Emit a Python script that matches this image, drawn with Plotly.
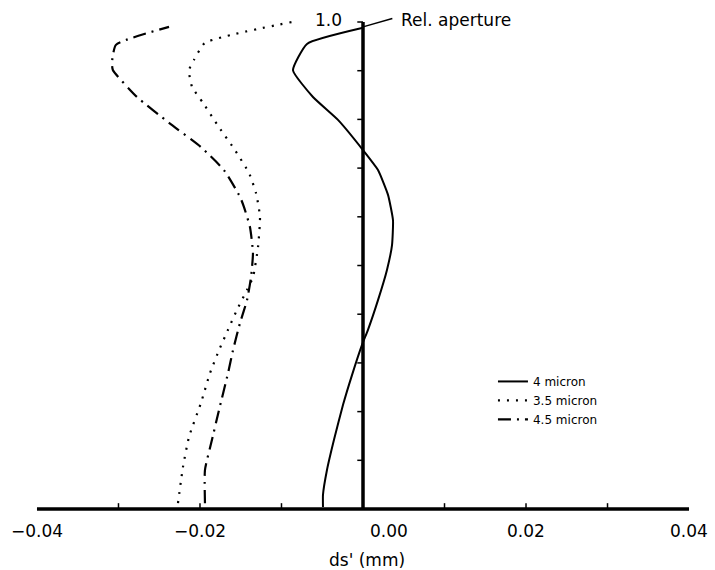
import plotly.graph_objects as go

# ---- data ----
aperture_4 = [0.004, 0.029, 0.080, 0.142, 0.214, 0.275, 0.337, 0.368, 0.429, 0.491,
              0.542, 0.593, 0.645, 0.696, 0.737, 0.799, 0.846, 0.901, 0.955, 0.988]
ds_4 = [-0.00491, -0.00491, -0.00442, -0.00356, -0.00245, -0.00135, -0.00012, 0.00061,
        0.00184, 0.00294, 0.00356, 0.00368, 0.00307, 0.00184, 0.0, -0.00307, -0.00614,
        -0.00859, -0.00687, 0.0]

aperture_35 = [0.012, 0.086, 0.148, 0.218, 0.279, 0.326, 0.368, 0.409, 0.450, 0.476,
               0.538, 0.600, 0.649, 0.690, 0.737, 0.784, 0.834, 0.867, 0.901, 0.922,
               0.957, 1.0]
ds_35 = [-0.02270, -0.02209, -0.02135, -0.01988, -0.01877, -0.01767, -0.01656, -0.01546,
         -0.01423, -0.01350, -0.01288, -0.01264, -0.01313, -0.01399, -0.01571, -0.01767,
         -0.01963, -0.02098, -0.02135, -0.02074, -0.01939, -0.00871]

aperture_45 = [0.012, 0.080, 0.142, 0.203, 0.279, 0.326, 0.382, 0.429, 0.476, 0.526,
               0.579, 0.620, 0.641, 0.696, 0.743, 0.793, 0.846, 0.901, 0.916, 0.953, 0.990]
ds_45 = [-0.01939, -0.01939, -0.01853, -0.01767, -0.01656, -0.01595, -0.01509, -0.01423,
         -0.01374, -0.01350, -0.01387, -0.01460, -0.01509, -0.01706, -0.01988, -0.02380,
         -0.02773, -0.03068, -0.03080, -0.03031, -0.02380]

series_names = ["4 micron", "3.5 micron", "4.5 micron"]

x_minor_ticks = [-0.03, -0.02, -0.01, 0.01, 0.02, 0.03]
x_label_vals = [-0.04, -0.02, 0.00, 0.02, 0.04]
x_label_text = ["\u22120.04", "\u22120.02", "0.00", "0.02", "0.04"]
y_ticks = [0.1, 0.2, 0.3, 0.4, 0.5, 0.6, 0.7, 0.8, 0.9, 1.0]

FONT = "DejaVu Sans"

fig = go.Figure()
fig.add_trace(go.Scatter(x=ds_4, y=aperture_4, mode="lines", name=series_names[0],
                         line=dict(color="black", width=2, shape="spline", smoothing=0.45)))
fig.add_trace(go.Scatter(x=ds_35, y=aperture_35, mode="lines", name=series_names[1],
                         line=dict(color="black", width=2.2, dash="2px,7px",
                                   shape="spline", smoothing=0.5)))
fig.add_trace(go.Scatter(x=ds_45, y=aperture_45, mode="lines", name=series_names[2],
                         line=dict(color="black", width=2.2, dash="13px,6px,2px,6px",
                                   shape="spline", smoothing=0.5)))

shapes = []
# baseline (x axis) and vertical aperture axis
shapes.append(dict(type="line", xref="x", yref="y", x0=-0.04, x1=0.04, y0=0, y1=0,
                   line=dict(color="black", width=3.5)))
shapes.append(dict(type="line", xref="x", yref="y", x0=0, x1=0, y0=0, y1=1.0,
                   line=dict(color="black", width=3.5)))
# minor ticks on baseline (pointing up)
for t in x_minor_ticks:
    shapes.append(dict(type="line", xref="x", yref="y", x0=t, x1=t, y0=0, y1=0.012,
                       line=dict(color="black", width=1.5)))
# ticks on aperture axis (pointing left)
for t in y_ticks:
    shapes.append(dict(type="line", xref="x", yref="y", x0=-0.0007, x1=0, y0=t, y1=t,
                       line=dict(color="black", width=1.5)))
# leader line for "Rel. aperture"
shapes.append(dict(type="line", xref="x", yref="y", x0=0, x1=0.0036, y0=0.99, y1=1.007,
                   line=dict(color="black", width=1.5)))

annotations = []
for v, txt in zip(x_label_vals, x_label_text):
    annotations.append(dict(x=v, y=0, xref="x", yref="y", text=txt, showarrow=False,
                            xanchor="center", yanchor="middle", yshift=-22,
                            xshift=26 if v == 0 else 0,
                            font=dict(family=FONT, size=17, color="black")))
annotations.append(dict(x=0, y=0, xref="x", yref="y", text="ds' (mm)", showarrow=False,
                        xanchor="center", yanchor="middle", yshift=-51, xshift=4,
                        font=dict(family=FONT, size=17, color="black")))
annotations.append(dict(x=0, y=1.0, xref="x", yref="y", text="1.0", showarrow=False,
                        xanchor="right", yanchor="middle", xshift=-19, yshift=2,
                        font=dict(family=FONT, size=17, color="black")))
annotations.append(dict(x=0, y=1.0, xref="x", yref="y", text="Rel. aperture",
                        showarrow=False, xanchor="left", yanchor="middle", xshift=36,
                        yshift=2, font=dict(family=FONT, size=17, color="black")))

fig.update_layout(
    width=715, height=570,
    margin=dict(l=21, r=10, t=7, b=51),
    paper_bgcolor="white", plot_bgcolor="white",
    xaxis=dict(range=[-0.04196, 0.04196], visible=False, showgrid=False, zeroline=False),
    yaxis=dict(range=[-0.0205, 1.0308], visible=False, showgrid=False, zeroline=False),
    shapes=shapes, annotations=annotations,
    showlegend=True,
    legend=dict(x=0.69, y=0.297, xanchor="left", yanchor="top", bgcolor="rgba(0,0,0,0)",
                font=dict(family=FONT, size=12, color="black"), tracegroupgap=0,
                itemwidth=30),
)

fig.write_html("out.html")
